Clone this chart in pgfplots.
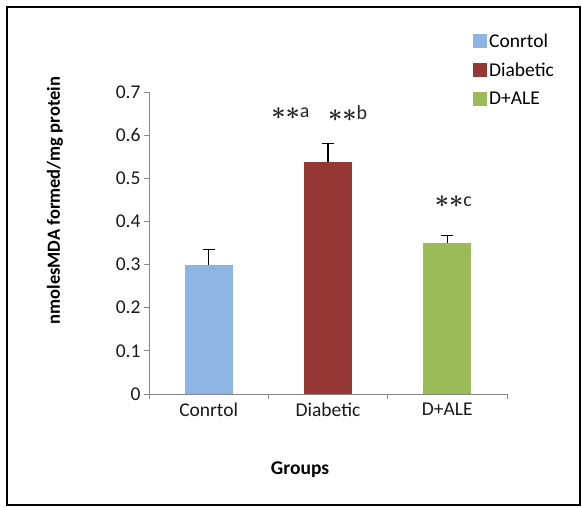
\documentclass[border=0pt]{standalone}
\usepackage{pgfplots}
\pgfplotsset{compat=1.18}
\usepackage{fontspec}
\setmainfont{Carlito}
\definecolor{ctrlblue}{HTML}{8EB4E3}
\definecolor{diabred}{HTML}{953735}
\definecolor{alegreen}{HTML}{9BBB59}
\definecolor{axisgray}{HTML}{868686}
\newcommand{\stars}{\raisebox{-1.5pt}{\fontsize{25}{30}\selectfont\boldmath$\ast\ast$}}
\begin{document}
\begin{tikzpicture}[x=1pt,y=1pt]
\useasboundingbox (0,0) rectangle (582,508);
\draw[line width=2pt] (7,3) rectangle (580,501);
\begin{axis}[
  at={(149pt,114pt)}, anchor=south west,
  scale only axis, width=358pt, height=302pt,
  xmin=-0.5, xmax=2.5, ymin=0, ymax=0.7,
  axis lines*=left,
  axis line style={draw=axisgray, line width=0.9pt},
  tick align=outside,
  xtick={0,1,2}, xticklabels={Conrtol,Diabetic,D+ALE},
  minor xtick={-0.5,0.5,1.5,2.5},
  major x tick style={draw=none},
  minor x tick style={draw=axisgray, line width=0.9pt},
  minor tick length=5pt,
  ytick={0,0.1,0.2,0.3,0.4,0.5,0.6,0.7},
  major y tick style={draw=axisgray, line width=0.9pt},
  major tick length=5pt,
  /pgf/number format/assume math mode=true,
  yticklabel style={/pgf/number format/fixed, /pgf/number format/precision=1},
  tick label style={font=\fontsize{19.5}{22}\selectfont, text=black!90},
  xlabel={\textbf{Groups}},
  xlabel style={at={(rel axis cs:0.422,-0.2517)}, anchor=center, font=\fontsize{19.5}{22}\selectfont},
  ylabel={\textbf{nmolesMDA formed/mg protein}},
  ylabel style={at={(rel axis cs:-0.2626,0.64)}, anchor=center, font=\fontsize{18.5}{22}\selectfont},
  legend style={at={(rel axis cs:0.905,1.2)}, anchor=north west, draw=none, fill=none,
    font=\fontsize{19.5}{22}\selectfont, row sep=10pt, inner sep=0pt,
    nodes={inner xsep=2pt}},
  legend cell align=left,
  legend image code/.code={\fill[#1] (0pt,-7pt) rectangle (14pt,7pt);},
  error bars/error bar style={black, line width=1.4pt},
  error bars/error mark options={black, line width=1.4pt, mark size=6pt, rotate=90},
  clip=false,
]
\addplot[ybar, bar width=48pt, bar shift=0pt, fill=ctrlblue, draw=none,
  error bars/.cd, y dir=plus, y explicit]
  coordinates {(0,0.30) +- (0,0.035)};
\addlegendentry{Conrtol}
\addplot[ybar, bar width=48pt, bar shift=0pt, fill=diabred, draw=none,
  error bars/.cd, y dir=plus, y explicit]
  coordinates {(1,0.538) +- (0,0.042)};
\addlegendentry{Diabetic}
\addplot[ybar, bar width=48pt, bar shift=0pt, fill=alegreen, draw=none,
  error bars/.cd, y dir=plus, y explicit]
  coordinates {(2,0.35) +- (0,0.017)};
\addlegendentry{D+ALE}
\node[font=\fontsize{20}{24}\selectfont, text=black!85] at (axis cs:0.685,0.65) {\stars a};
\node[font=\fontsize{20}{24}\selectfont, text=black!85] at (axis cs:1.164,0.65) {\stars b};
\node[font=\fontsize{20}{24}\selectfont, text=black!85] at (axis cs:2.05,0.445) {\stars c};
\end{axis}
\end{tikzpicture}
\end{document}
